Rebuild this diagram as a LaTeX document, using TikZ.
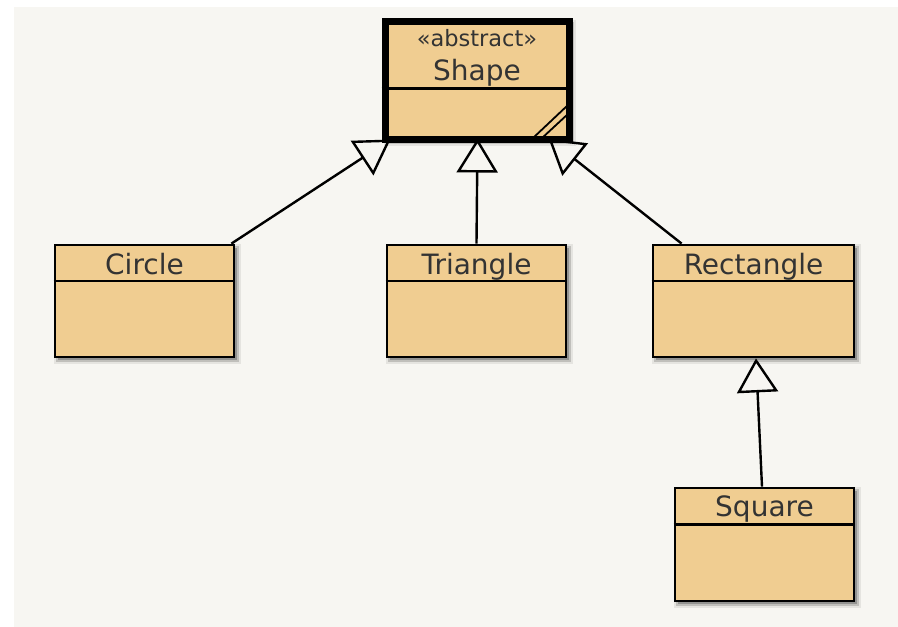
\documentclass[tikz,border=0pt]{standalone}
\usepackage{fontspec}
\setmainfont{DejaVu Sans}
\usetikzlibrary{arrows.meta}
\definecolor{paperbg}{HTML}{F7F6F2}
\definecolor{classfill}{HTML}{F0CD91}
\definecolor{ink}{HTML}{333333}
\pgfdeclarelayer{bg}
\pgfdeclarelayer{edges}
\pgfsetlayers{bg,edges,main}
\begin{document}
\begin{tikzpicture}[x=1pt,y=-1pt,
  softshadow/.style={
    preaction={draw=black, fill=black, draw opacity=0.07, fill opacity=0.08,
      line width=8pt, transform canvas={xshift=3pt,yshift=-3pt}},
    preaction={draw=black, fill=black, draw opacity=0.16, fill opacity=0.16,
      line width=4pt, transform canvas={xshift=2.5pt,yshift=-2.5pt}}},
  classbox/.style={softshadow, draw=black, fill=classfill, line width=2.8pt, inner sep=0pt,
    minimum width=179pt, minimum height=112pt},
  abstractbox/.style={classbox, line width=7pt, minimum width=184pt, minimum height=118pt},
  classname/.style={anchor=base, inner sep=0pt, text=ink,
    font=\fontsize{28}{30}\selectfont},
  stereo/.style={anchor=base, inner sep=0pt, text=ink,
    font=\fontsize{22.5}{25}\selectfont},
  divider/.style={draw=black, line width=2.3pt},
  marker/.style={draw=black, line width=1.8pt},
  inherit/.style={draw=black, line width=2.4pt,
    -{Triangle[open, length=34pt, width=41pt, line width=2.4pt]}}]

\useasboundingbox (0,0) rectangle (898,627);
\begin{pgfonlayer}{bg}
  \fill[white] (0,0) rectangle (898,627);
  \fill[paperbg] (14,7) rectangle (898,627);
\end{pgfonlayer}

% abstract base class
\node[abstractbox] (shape) at (477,80) {};
\node[stereo] (shape-st) at ([yshift=-28.5pt]shape.north) {«abstract»};
\node[classname] (shape-nm) at ([yshift=-63pt]shape.north) {Shape};
\draw[divider] ([yshift=-71pt]shape.north west) -- ([yshift=-71pt]shape.north east);
\draw[marker] ([xshift=-40pt,yshift=4pt]shape.south east) -- ([xshift=-4pt,yshift=38pt]shape.south east);
\draw[marker] ([xshift=-31pt,yshift=4pt]shape.south east) -- ([xshift=-4pt,yshift=29pt]shape.south east);

% subclasses
\node[classbox] (circle) at (144.5,301) {};
\node[classname] (circle-nm) at ([yshift=-30.5pt]circle.north) {Circle};
\draw[divider] ([yshift=-37.5pt]circle.north west) -- ([yshift=-37.5pt]circle.north east);

\node[classbox] (triangle) at (476.5,301) {};
\node[classname] (triangle-nm) at ([yshift=-30.5pt]triangle.north) {Triangle};
\draw[divider] ([yshift=-37.5pt]triangle.north west) -- ([yshift=-37.5pt]triangle.north east);

\node[classbox, minimum width=201pt] (rectangle) at (753.5,301) {};
\node[classname] (rectangle-nm) at ([yshift=-30.5pt]rectangle.north) {Rectangle};
\draw[divider] ([yshift=-37.5pt]rectangle.north west) -- ([yshift=-37.5pt]rectangle.north east);

\node[classbox, minimum height=113pt] (square) at (764.5,544.5) {};
\node[classname] (square-nm) at ([yshift=-30pt]square.north) {Square};
\draw[divider] ([yshift=-38pt]square.north west) -- ([yshift=-38pt]square.north east);

% generalisation arrows, kept beneath the boxes
\begin{pgfonlayer}{edges}
  \draw[inherit] ([xshift=-4pt]circle.north east) -- ([xshift=9pt,yshift=3pt]shape.south west);
  \draw[inherit] (triangle.north) -- ([xshift=0.5pt,yshift=4pt]shape.south);
  \draw[inherit] ([xshift=30pt]rectangle.north west) -- ([xshift=-24pt,yshift=4pt]shape.south east);
  \draw[inherit] ([xshift=-2.5pt]square.north) -- ([xshift=2.5pt]rectangle.south);
\end{pgfonlayer}
\end{tikzpicture}
\end{document}
